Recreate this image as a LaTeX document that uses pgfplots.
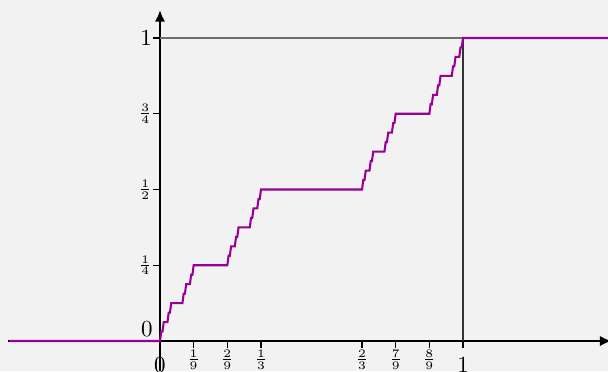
\documentclass[border=0pt]{standalone}
\usepackage{pgfplots}
\usepackage{pgfplotstable}
\pgfplotsset{compat=1.18}
\usetikzlibrary{arrows.meta,backgrounds}
\definecolor{bg}{HTML}{F2F2F2}
\definecolor{cantor}{RGB}{150,0,150}
\definecolor{grayline}{RGB}{110,110,110}
\pgfplotstableread{
x y
-121 0
0 0
1 1
2 1
3 2
6 2
7 3
8 3
9 4
18 4
19 5
20 5
21 6
24 6
25 7
26 7
27 8
54 8
55 9
56 9
57 10
60 10
61 11
62 11
63 12
72 12
73 13
74 13
75 14
78 14
79 15
80 15
81 16
162 16
163 17
164 17
165 18
168 18
169 19
170 19
171 20
180 20
181 21
182 21
183 22
186 22
187 23
188 23
189 24
216 24
217 25
218 25
219 26
222 26
223 27
224 27
225 28
234 28
235 29
236 29
237 30
240 30
241 31
242 31
243 32
362 32
}\cantortable
\begin{document}
\begin{tikzpicture}
\begin{axis}[
  x=131.7pt, y=131.7pt,
  axis lines=middle,
  xmin=-0.5, xmax=1.49, ymin=-0.1, ymax=1.092,
  axis line style={line width=0.9pt, -{Latex[length=5pt,width=4.5pt]}},
  hide obscured x ticks=false,
  hide obscured y ticks=false,
  tick align=outside,
  major tick length=3pt,
  tick style={black, line width=0.5pt},
  xtick={0,0.111111,0.222222,0.333333,0.666667,0.777778,0.888889,1},
  xticklabels={\raisebox{-3pt}[\height][\depth]{$0$},$\scriptstyle\frac{1}{9}$,$\scriptstyle\frac{2}{9}$,$\scriptstyle\frac{1}{3}$,$\scriptstyle\frac{2}{3}$,$\scriptstyle\frac{7}{9}$,$\scriptstyle\frac{8}{9}$,\raisebox{-3pt}[\height][\depth]{$1$}},
  ytick={0.25,0.5,0.75,1},
  yticklabels={$\scriptstyle\frac{1}{4}$,$\scriptstyle\frac{1}{2}$,$\scriptstyle\frac{3}{4}$,$1$},
  xticklabel style={anchor=north, yshift=2.5pt},
  yticklabel style={anchor=east, xshift=3pt},
  clip=true,
]
\addplot[grayline, line width=0.7pt] coordinates {(0,1) (1,1)};
\addplot[black!80, line width=0.5pt] coordinates {(1,0) (1,1)};
\addplot[cantor, line width=0.9pt, line join=miter] table[x expr=\thisrow{x}/243, y expr=\thisrow{y}/32] {\cantortable};
\node[anchor=south east, inner sep=3pt, yshift=-1.3pt] at (axis cs:0,0) {$0$};
\coordinate (bl) at (axis cs:-0.528,-0.099);
\coordinate (tr) at (axis cs:1.4785,1.1254);
\end{axis}
\begin{scope}[on background layer]
\fill[bg] (bl) rectangle (tr);
\end{scope}
\pgfresetboundingbox
\useasboundingbox (bl) rectangle (tr);
\end{tikzpicture}
\end{document}
